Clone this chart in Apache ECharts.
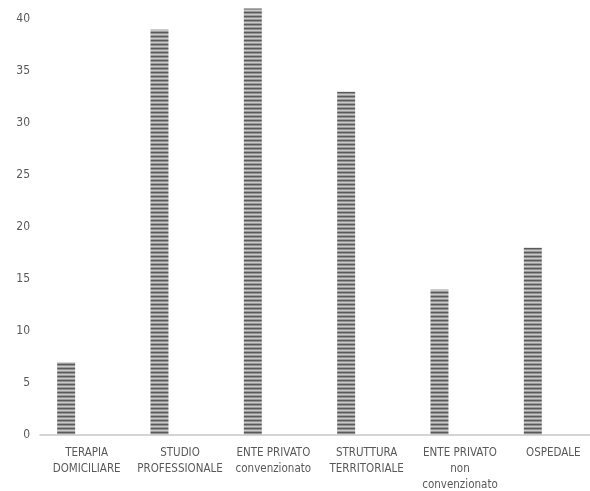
<!DOCTYPE html>
<html lang="it">
<head>
    <meta charset="UTF-8">
    <title>Chart</title>
    <script src="https://cdn.jsdelivr.net/npm/echarts@6/dist/echarts.min.js"></script>
    <style>
        *{
            margin: 0;
            padding: 0;
        }
        body{
            background-color: #fff;
            overflow: hidden;
        }
    </style>
</head>
<body>
<div id="main" style="width:590px;height:491px;"></div>
<script>
    // dati del grafico
    var categories = [
        'TERAPIA\nDOMICILIARE',
        'STUDIO\nPROFESSIONALE',
        'ENTE PRIVATO\nconvenzionato',
        'STRUTTURA\nTERRITORIALE',
        'ENTE PRIVATO\nnon\nconvenzionato',
        'OSPEDALE'
    ];
    var values = [7, 39, 41, 33, 14, 18];
    var yTicks = [0, 5, 10, 15, 20, 25, 30, 35, 40];

    // motivo a righe orizzontali per le barre
    function stripePattern() {
        var c = document.createElement('canvas');
        c.width = 4;
        c.height = 4;
        var ctx = c.getContext('2d');
        var rows = ['#5a5a5a', '#939393', '#c8c8c8', '#9c9c9c'];
        for (var i = 0; i < rows.length; i++) {
            ctx.fillStyle = rows[i];
            ctx.fillRect(0, i, 4, 1);
        }
        return c;
    }

    var txtColor = '#595959';
    var font = '"DejaVu Sans Condensed", "Liberation Sans", sans-serif';

    var myChart = echarts.init(document.getElementById('main'));
    var option = {
        animation: false,
        grid: {
            left: 40,
            width: 560,
            top: 19,
            height: 416,
            containLabel: false,
            outerBoundsMode: 'none'
        },
        xAxis: {
            type: 'category',
            data: categories,
            axisLine: {lineStyle: {color: '#c8c8c8', width: 1.5}},
            axisTick: {show: false},
            axisLabel: {
                color: txtColor,
                fontFamily: font,
                fontSize: 11.5,
                lineHeight: 16,
                margin: 10,
                interval: 0
            }
        },
        yAxis: {
            type: 'value',
            min: yTicks[0],
            max: yTicks[yTicks.length - 1],
            interval: yTicks[1] - yTicks[0],
            splitLine: {show: false},
            axisLine: {show: false},
            axisTick: {show: false},
            axisLabel: {
                color: txtColor,
                fontFamily: font,
                fontSize: 12,
                margin: 10
            }
        },
        series: [
            {
                type: 'bar',
                data: values,
                clip: false,
                barWidth: 18,
                barGap: '14%',
                itemStyle: {
                    color: {image: stripePattern(), repeat: 'repeat'}
                }
            },
            {type: 'bar', data: [], barWidth: 18, barGap: '14%'},
            {type: 'bar', data: [], barWidth: 18, barGap: '14%'}
        ]
    };
    myChart.setOption(option);
</script>
</body>
</html>
